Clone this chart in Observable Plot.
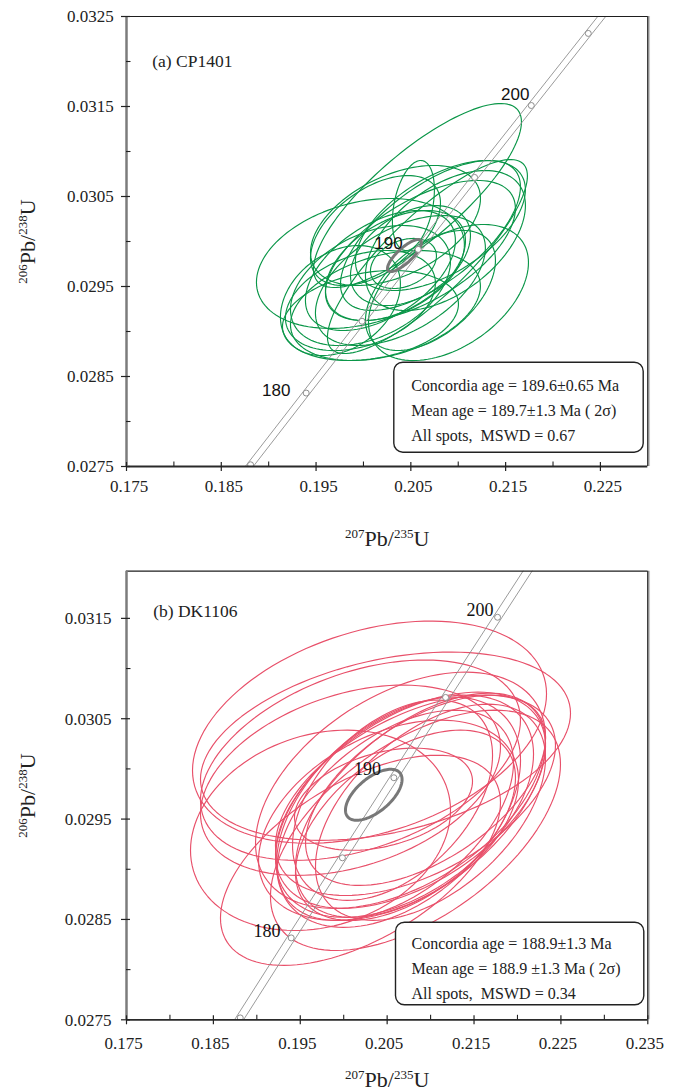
<!DOCTYPE html>
<html><head><meta charset="utf-8">
<script src="https://cdn.jsdelivr.net/npm/d3@7"></script>
<script src="https://cdn.jsdelivr.net/npm/@observablehq/plot@0.6"></script>
<style>
body{margin:0;background:#fff;}
#chart svg{display:block;}
</style></head><body><div id="chart"></div>
<script>
// ---- Concordia reference points (age in Ma) ----
const concAges = [170,175,180,185,190,195,200,205,210];
const concPb207U235 = [0.182256,0.188092,0.193957,0.199851,0.205773,0.211726,0.217708,0.223719,0.229760];
const concPb206U238 = [0.026722,0.027519,0.028316,0.029114,0.029912,0.030712,0.031511,0.032312,0.033113];
const concLabelAges = [180,190,200];

// ---- Panel (a) CP1401 : spot ratios, 2σ errors, error correlation ----
const aPb207U235 = [0.20570,0.20527,0.19968,0.20897,0.20675,0.20707,0.20601,0.20179,0.20338,0.20074,0.20390,0.19968,0.20232,0.20496,0.20422,0.19757,0.20074,0.20127,0.20707,0.20812,0.20865,0.20338];
const aPb206U238 = [0.030511,0.030400,0.029756,0.029433,0.029833,0.030067,0.029900,0.029678,0.029733,0.029511,0.029567,0.029344,0.029289,0.029844,0.029756,0.029344,0.029178,0.030122,0.029456,0.030178,0.030011,0.030178];
const aErr207 = [0.010970,0.002215,0.010970,0.008439,0.010549,0.009494,0.010021,0.007911,0.007384,0.008439,0.008966,0.007911,0.010021,0.006329,0.003481,0.006329,0.009283,0.006857,0.006857,0.008966,0.008439,0.008966];
const aErr206 = [0.001022,0.000500,0.000722,0.000756,0.001078,0.000833,0.000778,0.000667,0.000611,0.000667,0.000722,0.000556,0.000611,0.000556,0.000278,0.000611,0.000500,0.000611,0.000667,0.000722,0.000778,0.000667];
const aRho = [0.80,0.35,0.29,0.44,0.83,0.65,0.60,0.50,0.45,0.40,0.50,0.35,0.35,0.40,0.30,0.30,0.25,0.50,0.50,0.55,0.50,0.45];
const aMean = [0.20433, 0.029844, 0.00179, 0.000178, 0.80]; // x, y, 2σx, 2σy, rho
const aXMajor = [0.175,0.185,0.195,0.205,0.215,0.225];
const aXMinor = [0.180,0.190,0.200,0.210,0.220];
const aYMajor = [0.0275,0.0285,0.0295,0.0305,0.0315,0.0325];
const aYMinor = [0.0280,0.0290,0.0300,0.0310,0.0320];
const aBox = ["Concordia age = 189.6±0.65 Ma", "Mean age = 189.7±1.3 Ma ( 2σ)", "All spots,\u00a0 MSWD = 0.67"];

// ---- Panel (b) DK1106 ----
const bPb207U235 = [0.20297,0.20481,0.19733,0.20193,0.20826,0.20458,0.20193,0.20078,0.20700,0.20769,0.20631,0.20826,0.20596,0.20884,0.20654,0.20516,0.20942,0.20711,0.20562,0.20999];
const bPb206U238 = [0.030366,0.030226,0.029388,0.029089,0.029388,0.029698,0.030087,0.029887,0.029628,0.029688,0.029568,0.029737,0.029538,0.029638,0.029787,0.029488,0.029787,0.029438,0.029688,0.029568];
const bErr207 = [0.020373,0.021294,0.014963,0.016114,0.016690,0.010244,0.018416,0.017265,0.014848,0.015539,0.014042,0.016114,0.013582,0.014388,0.016690,0.014963,0.013812,0.012661,0.011510,0.013237];
const bErr206 = [0.001107,0.000938,0.000998,0.001047,0.001197,0.000509,0.000998,0.000948,0.001107,0.001077,0.001147,0.000998,0.001047,0.001117,0.001177,0.000998,0.000948,0.000948,0.000998,0.001077];
const bRho = [0.345,0.35,0.20,0.55,0.55,0.35,0.40,0.35,0.47,0.50,0.45,0.50,0.50,0.55,0.45,0.40,0.55,0.50,0.45,0.50];
const bMean = [0.20346, 0.029742, 0.003257, 0.000254, 0.60];
const bXMajor = [0.175,0.185,0.195,0.205,0.215,0.225,0.235];
const bXMinor = [0.180,0.190,0.200,0.210,0.220,0.230];
const bYMajor = [0.0275,0.0285,0.0295,0.0305,0.0315];
const bYMinor = [0.0280,0.0290,0.0300,0.0310];
const bBox = ["Concordia age = 188.9±1.3 Ma", "Mean age = 188.9 ±1.3 Ma ( 2σ)", "All spots,\u00a0 MSWD = 0.34"];

const xLabel = "207Pb/235U", xLabelParts = [["207",true],["Pb/",false],["235",true],["U",false]];
const yLabel = "206Pb/238U", yLabelParts = [["206",true],["Pb/",false],["238",true],["U",false]];

const SERIF = "'Liberation Serif','Times New Roman',serif";
const SANS = "'Liberation Sans',Arial,sans-serif";

function ellipseRows(xs, ys, ex, ey, rh) {
  const rows = [], n = 120;
  xs.forEach((cx, i) => {
    const s = Math.sqrt(1 - rh[i] * rh[i]);
    for (let k = 0; k <= n; k++) {
      const t = 2 * Math.PI * k / n;
      rows.push({id: i, x: cx + ex[i] * Math.cos(t), y: ys[i] + ey[i] * (rh[i] * Math.cos(t) + s * Math.sin(t))});
    }
  });
  return rows;
}

function superscript(svg, plain, parts, fontSize, supSize, shift) {
  d3.select(svg).selectAll("text").filter(function(){ return this.textContent === plain; }).each(function(){
    let base = 0; const dyAttr = this.getAttribute("dy");
    if (dyAttr) { base = dyAttr.endsWith("em") ? parseFloat(dyAttr) * fontSize : parseFloat(dyAttr); this.removeAttribute("dy"); }
    const t = d3.select(this); t.text(null);
    let cur = 0, first = true;
    for (const [s, isSup] of parts) {
      const target = isSup ? -shift : 0;
      const ts = t.append("tspan").text(s);
      if (isSup) ts.attr("font-size", supSize);
      const d = (first ? base : 0) + (target - cur);
      if (d !== 0) ts.attr("dy", d);
      cur = target; first = false;
    }
  });
}

function panel(c) {
  const conc = concAges.map((t, i) => ({t, x: concPb207U235[i], y: concPb206U238[i]}));
  const labelled = conc.filter(d => concLabelAges.includes(d.t));
  const marks = [
    Plot.line(ellipseRows(c.xs, c.ys, c.ex, c.ey, c.rho), {x: "x", y: "y", z: "id", stroke: c.color, strokeWidth: 1.15, clip: true}),
    Plot.line(conc, {x: d => d.x - c.band, y: "y", stroke: "#8e8e8e", strokeWidth: 0.9, clip: true}),
    Plot.line(conc, {x: d => d.x + c.band, y: "y", stroke: "#8e8e8e", strokeWidth: 0.9, clip: true}),
    Plot.line(ellipseRows([c.mean[0]], [c.mean[1]], [c.mean[2]], [c.mean[3]], [c.mean[4]]), {x: "x", y: "y", z: "id", stroke: "#787878", strokeWidth: 3, clip: true}),
    Plot.dot(conc, {x: "x", y: "y", r: 3, fill: "white", stroke: "#8e8e8e", strokeWidth: 1, clip: true}),
  ];
  labelled.forEach((d, i) => {
    marks.push(Plot.text([d], {x: "x", y: "y", text: e => String(e.t), dx: c.ageDx[i], dy: c.ageDy[i], fontSize: c.ageSize, fontFamily: c.ageFont, fill: "#111", textAnchor: "middle", lineAnchor: "middle"}));
  });
  marks.push(
    // frame lines
    Plot.ruleX([c.xDomain[1]], {stroke: "#c8c8c8", strokeWidth: 1.5, dx: 1.5}),
    Plot.ruleX([c.xDomain[1]], {stroke: "#1e1e1e", strokeWidth: 1.3}),
    Plot.ruleY([c.yDomain[1]], {stroke: "#1e1e1e", strokeWidth: 1.2}),
    Plot.ruleY([c.yDomain[0]], {stroke: "#2a2a2a", strokeWidth: 1.8}),
    Plot.ruleX([c.xDomain[0]], {stroke: "#7c7c7c", strokeWidth: 2.5}),
    // ticks
    Plot.axisX(c.xMajor, {anchor: "bottom", tickSize: 9, dy: -4, tickFormat: () => "", label: null, stroke: "#222", strokeWidth: 1.2}),
    Plot.axisX(c.xMinor, {anchor: "bottom", tickSize: 4.5, dy: -4.5, tickFormat: () => "", label: null, stroke: "#222", strokeWidth: 1.1}),
    Plot.axisY(c.yMajor, {anchor: "left", tickSize: 9, dx: 4, tickFormat: () => "", label: null, stroke: "#222", strokeWidth: 1.2}),
    Plot.axisY(c.yMinor, {anchor: "left", tickSize: 4.5, dx: 4.5, tickFormat: () => "", label: null, stroke: "#222", strokeWidth: 1.1}),
    // tick labels
    Plot.text(c.xMajor, {x: d => d, frameAnchor: "bottom", text: d3.format(".3f"), dy: c.xTickDy, dx: c.xTickDx, fontSize: 17, fill: "#222", textAnchor: "middle", lineAnchor: "middle"}),
    Plot.text(c.yMajor, {y: d => d, frameAnchor: "left", text: d3.format(".4f"), dx: c.yTickDx, dy: 0.5, fontSize: 17, fill: "#222", textAnchor: "end", lineAnchor: "middle"}),
    // text box
    Plot.frame({insetLeft: c.box[0], insetRight: c.box[1], insetTop: c.box[2], insetBottom: c.box[3], rx: 9, ry: 9, stroke: "#222", strokeWidth: 1.4, fill: "white"}),
    Plot.text([c.boxText.join("\n")], {frameAnchor: "top-left", text: d => d, dx: c.boxDx, dy: c.boxDy, lineHeight: c.boxLH, fontSize: 16, fill: "#222", textAnchor: "start", lineAnchor: "top"}),
    // panel label
    Plot.text([c.title], {frameAnchor: "top-left", text: d => d, dx: c.titleDx, dy: c.titleDy, fontSize: 17.5, fill: "#222", textAnchor: "start", lineAnchor: "middle"}),
    // axis titles
    Plot.text([xLabel], {frameAnchor: "bottom", text: d => d, dy: c.xLabelDy, fontSize: 22, fill: "#222", textAnchor: "middle", lineAnchor: "middle"}),
    Plot.text([yLabel], {frameAnchor: "left", text: d => d, dx: -99, rotate: -90, fontSize: 22, fill: "#222", textAnchor: "middle", lineAnchor: "middle"})
  );
  const svg = Plot.plot({
    width: 680, height: c.height,
    marginLeft: 126, marginRight: 32.7, marginTop: c.mt, marginBottom: c.mb,
    x: {domain: c.xDomain},
    y: {domain: c.yDomain},
    style: {fontFamily: SERIF, background: "white", color: "#222", overflow: "visible"},
    marks
  });
  superscript(svg, xLabel, xLabelParts, 22, 13, 8);
  superscript(svg, yLabel, yLabelParts, 22, 13, 8);
  return svg;
}

const root = document.getElementById("chart");
root.appendChild(panel({
  height: 550, mt: 16, mb: 84,
  xDomain: [0.175, 0.230], yDomain: [0.0275, 0.0325],
  xs: aPb207U235, ys: aPb206U238, ex: aErr207, ey: aErr206, rho: aRho, mean: aMean,
  color: "#0a9648", band: 0.00042,
  xMajor: aXMajor, xMinor: aXMinor, yMajor: aYMajor, yMinor: aYMinor,
  ageDx: [-30, -29.7, -16], ageDy: [-2.6, -5.4, -11], ageSize: 17, ageFont: SANS,
  xTickDy: 20.2, xTickDx: 2.5, yTickDx: -12.7,
  box: [267.3, 4.6, 345.7, 14.3], boxText: aBox, boxDx: 284.7, boxDy: 356.6, boxLH: 1.5625,
  title: "(a) CP1401", titleDx: 25.7, titleDy: 45.1,
  xLabelDy: 72
}));
root.appendChild(panel({
  height: 542, mt: 20.7, mb: 72.7,
  xDomain: [0.175, 0.235], yDomain: [0.0275, 0.03197],
  xs: bPb207U235, ys: bPb206U238, ex: bErr207, ey: bErr206, rho: bRho, mean: bMean,
  color: "#e8506a", band: 0.00052,
  xMajor: bXMajor, xMinor: bXMinor, yMajor: bYMajor, yMinor: bYMinor,
  ageDx: [-24.2, -26.4, -17.5], ageDy: [-6.5, -8.5, -7.2], ageSize: 18, ageFont: SERIF,
  xTickDy: 23.6, xTickDx: -3, yTickDx: -15,
  box: [269, 4, 351, 15], boxText: bBox, boxDx: 285, boxDy: 360.6, boxLH: 1.544,
  title: "(b) DK1106", titleDx: 26.7, titleDy: 39.7,
  xLabelDy: 60.5
}));
</script></body></html>
